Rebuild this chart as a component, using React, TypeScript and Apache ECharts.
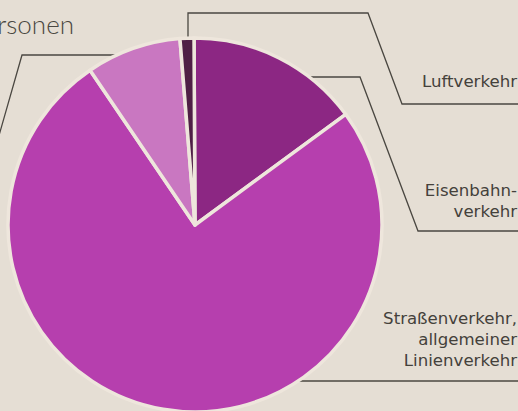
import React, { useEffect, useRef } from "react";
import * as echarts from "echarts";

const categories = ["Eisenbahnverkehr", "Straßenverkehr, allgemeiner Linienverkehr", "Gelegenheitsverkehr", "Luftverkehr"];
const shares = [15.0, 75.6, 8.2, 1.2];
const sliceColors = ["#8c2783", "#b63fae", "#c977c1", "#4f1f45"];
const labelTexts = ["Luftverkehr", "Eisenbahn-\nverkehr", "Straßenverkehr,\nallgemeiner\nLinienverkehr"];
const titleText = "Personen";

export default function App() {
  const ref = useRef<HTMLDivElement>(null);
  useEffect(() => {
    if (!ref.current) return;
    const chart = echarts.init(ref.current, null, { renderer: "svg" });
    const lineStyle = { stroke: "#4a4741", lineWidth: 1.3, fill: null };
    const textFont = "16.6px 'DejaVu Sans', 'Open Sans', sans-serif";
    const textColor = "#44413b";
    chart.setOption({
      animation: false,
      backgroundColor: "#e5ded4",
      series: [
        {
          type: "pie",
          center: [195, 225],
          radius: [0, 187],
          startAngle: 90.3,
          clockwise: true,
          silent: true,
          label: { show: false },
          labelLine: { show: false },
          itemStyle: { borderColor: "#eee6dc", borderWidth: 3.5 },
          data: categories.map((name, i) => ({
            name,
            value: shares[i],
            itemStyle: { color: sliceColors[i] },
          })),
        },
      ],
      graphic: [
        {
          type: "text",
          x: 74,
          y: 24,
          style: {
            text: titleText,
            textAlign: "right",
            textVerticalAlign: "middle",
            font: "300 26px Lato, 'Open Sans', sans-serif",
            fill: "#4a4741",
          },
        },
        { type: "polyline", shape: { points: [[188, 48], [188, 13], [368, 13], [402, 104], [530, 104]] }, style: lineStyle },
        { type: "polyline", shape: { points: [[287, 77], [360, 77], [418, 231], [530, 231]] }, style: lineStyle },
        { type: "polyline", shape: { points: [[275, 381], [530, 381]] }, style: lineStyle },
        { type: "polyline", shape: { points: [[133, 55], [22, 55], [-8, 160]] }, style: lineStyle },
        {
          type: "text",
          x: 517,
          y: 81,
          style: { text: labelTexts[0], textAlign: "right", textVerticalAlign: "middle", font: textFont, fill: textColor },
        },
        {
          type: "text",
          x: 517,
          y: 201,
          style: { text: labelTexts[1], textAlign: "right", textVerticalAlign: "middle", font: textFont, lineHeight: 21, fill: textColor },
        },
        {
          type: "text",
          x: 517,
          y: 339,
          style: { text: labelTexts[2], textAlign: "right", textVerticalAlign: "middle", font: textFont, lineHeight: 21, fill: textColor },
        },
      ],
    });
    return () => chart.dispose();
  }, []);
  return (
    <div
      ref={ref}
      style={{ position: "fixed", left: 0, top: 0, width: 518, height: 411 }}
    />
  );
}
